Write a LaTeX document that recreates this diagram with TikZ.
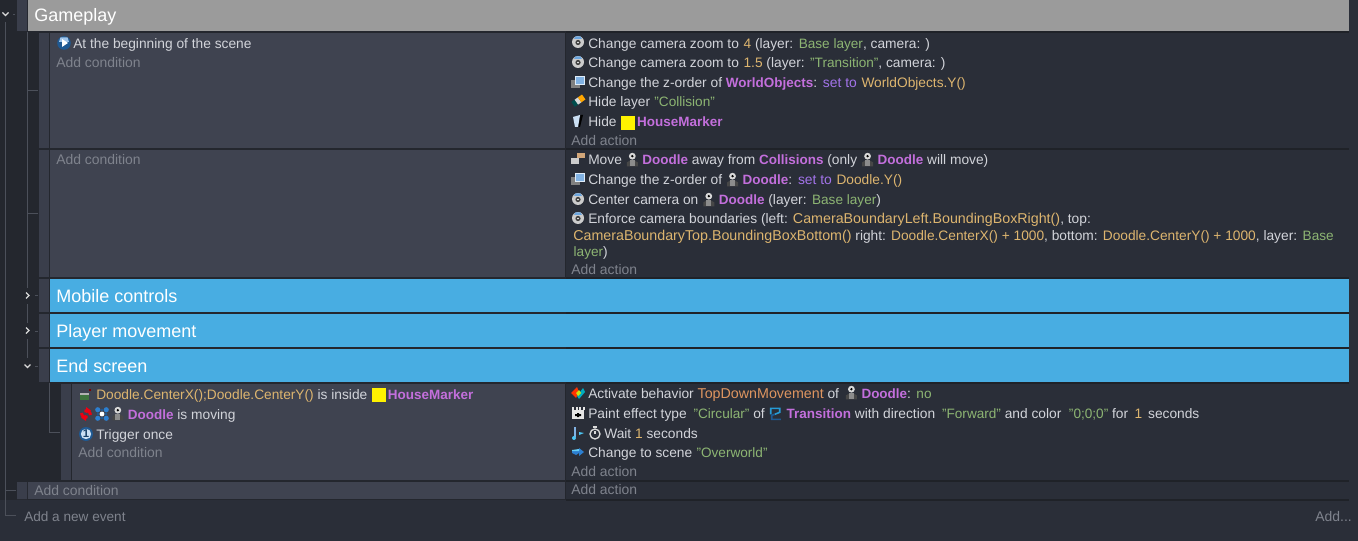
\documentclass[tikz,border=0pt]{standalone}
\usepackage{fontspec}
\setmainfont{Liberation Sans}
\definecolor{gutterbg}{HTML}{24272E}
\definecolor{gapbg}{HTML}{1F2228}
\definecolor{actionbg}{HTML}{2A2E38}
\definecolor{panelbg}{HTML}{3F4350}
\definecolor{handlebg}{HTML}{3A3E4B}
\definecolor{headerbg}{HTML}{9B9B9B}
\definecolor{groupbg}{HTML}{48ADE2}
\definecolor{treeline}{HTML}{4C505A}
\definecolor{plaintext}{HTML}{D2D4DA}
\definecolor{hinttext}{HTML}{7F838D}
\definecolor{objtext}{HTML}{C36FDC}
\definecolor{exprtext}{HTML}{DDB56F}
\definecolor{strtext}{HTML}{8DB573}
\definecolor{optext}{HTML}{A374EA}
\definecolor{behtext}{HTML}{DE9560}
\definecolor{iconblue}{HTML}{2C7FD0}
\newcommand{\objname}[1]{\textcolor{objtext}{\fontsize{10.1pt}{12pt}\selectfont\textbf{#1}}}
\newcommand{\expr}[1]{\textcolor{exprtext}{\fontsize{10.3pt}{12pt}\selectfont #1}}
\newcommand{\exprwide}[1]{\textcolor{exprtext}{\fontsize{10.7pt}{12pt}\selectfont #1}}
\newcommand{\strv}[1]{\hspace{0.3pt}\textcolor{strtext}{\fontsize{10.2pt}{12pt}\selectfont #1}}
\newcommand{\opword}[1]{\hspace{0.6pt}\textcolor{optext}{\fontsize{10.4pt}{12pt}\selectfont #1}\hspace{0.6pt}}
\newcommand{\doodle}{\hspace{0.8pt}\tikz[x=0.75pt,y=-0.75pt,baseline=-4.2pt]{%
  \fill[black!72] (-5.5,7) -- (-5.5,3) -- (-2,1) -- (2,1) -- (5.5,3) -- (5.5,7) -- cycle;
  \fill[black!45] (-2.5,7) rectangle (2.5,1);
  \fill[white!85!black] (0,-3.2) circle (3.4);
  \fill[black] (0,-3.2) circle (1.3);}\hspace{0.6pt}}
\newcommand{\marker}{\hspace{0.6pt}\raisebox{-2.25pt}{\textcolor{yellow}{\rule{10.5pt}{10.5pt}}}\hspace{1.5pt}}
\tikzset{
  line/.style={anchor=base west,inner sep=0pt,text=plaintext,font=\fontsize{10.32pt}{12pt}\selectfont},
  hint/.style={line,text=hinttext,font=\fontsize{10.45pt}{12pt}\selectfont},
  title/.style={line,text=white,font=\fontsize{13.5pt}{16pt}\selectfont},
  tree/.style={draw=treeline,line width=0.75pt},
  chevron/.style={draw=white!85!black,line width=1pt},
  camera/.pic={\fill[white!80!black] (0,0) circle (6);
    \fill[iconblue!70!white] (-4,-3) -- (4,-3) -- (2.5,-5.5) -- (-2.5,-5.5) -- cycle;
    \fill[black!75] (0,0.5) circle (2.6);
    \fill[white] (0,0.5) circle (0.9);},
  zorder/.pic={\fill[gray] (-7,-2) rectangle (2,6);
    \fill[white!85!iconblue] (-3,-6) rectangle (7,3);
    \fill[iconblue!60] (-2,-5) rectangle (6,2);},
  eraser/.pic={\fill[black!40!teal,rotate=35] (-6,-3) rectangle (-1,3);
    \fill[white!85!black,rotate=35] (-2,-3) rectangle (2,3);
    \fill[orange!70!yellow,rotate=35] (2,-3) rectangle (7,3);},
  hidemark/.pic={\fill[white!75!iconblue] (-5,-4) -- (2,-6) -- (0,6) -- (-3,6) -- cycle;
    \fill[black] (2.5,-6) -- (5,-6) -- (2,6) -- (0.5,6) -- cycle;},
  movemark/.pic={\fill[brown!70!white] (-1,-6) rectangle (7,-1);
    \fill[white!60!gray] (-7,-1) rectangle (1,5);},
  begin/.pic={\fill[iconblue!70!black] (0,0) circle (6.8);
    \fill[iconblue!45!white] (-5,-1) -- (5,-1) -- (3.5,-5.5) -- (-3.5,-5.5) -- cycle;
    \fill[white] (-2,-4) -- (4,0) -- (-2,4) -- cycle;},
  inside/.pic={\fill[gray!70!green!70!black] (-5,-2) rectangle (4,5);
    \fill[gray!60] (-5,-2) rectangle (4,-0.5);
    \fill[red!50!black] (3.5,-6) rectangle (5.5,-4);},
  movingmark/.pic={\draw[red!75!purple,line width=2.2pt] (-4.5,-1) arc (180:70:4.5);
    \draw[red!75!purple,line width=2.2pt] (4.5,1) arc (0:-110:4.5);
    \fill[red!75!purple] (0,-7) -- (5,-3.5) -- (0,-1) -- cycle;
    \fill[red!75!purple] (0,7) -- (-5,3.5) -- (0,1) -- cycle;},
  starmark/.pic={\foreach \a in {45,135,225,315}{\fill[iconblue] (\a:6) circle (2.6);}
    \foreach \a in {0,90,180,270}{\fill[iconblue!70!black] (\a:4) circle (1.4);}
    \fill[white] (0,0) circle (2.4);},
  once/.pic={\fill[iconblue!70!black] (0,0) circle (7);
    \fill[white!75!iconblue] (0,0) circle (5.2);
    \node[inner sep=0pt,text=iconblue!50!black,font=\bfseries\fontsize{8.5pt}{9pt}\selectfont] {1};},
  activate/.pic={\fill[red!60!orange] (-7,0) -- (-1,-6) -- (1,-1) -- (-2,5) -- cycle;
    \fill[cyan!70!green] (-1,3) -- (5,-5) -- (7,-1) -- (1,6) -- cycle;
    \fill[yellow!80!green] (-2,0) -- (1,-3) -- (3,0) -- (0,3) -- cycle;},
  paint/.pic={\fill[white!90!black] (-6,-3) rectangle (6,6);
    \foreach \a in {-6,-2.5,1,4.5}{\fill[white!90!black] (\a,-6) rectangle (\a+2,-3);}
    \fill[black] (-1,0) rectangle (1,4) (-3,1) rectangle (3,3);},
  waitmark/.pic={\draw[iconblue!60,line width=0.8pt] (-3,-6) -- (-3,4);
    \fill[cyan!70!white] (-4,5) circle (2);
    \fill[cyan!70!white] (1,-1) -- (6,0) -- (1,2) -- cycle;},
  watch/.pic={\draw[white!85!black,line width=1pt] (0,1) circle (5);
    \draw[white!85!black,line width=1pt] (-2,-6) -- (2,-6) (0,1) -- (0,-2);},
  scene/.pic={\fill[iconblue] (-6,-1) -- (1,-1) -- (1,-4) -- (6,0) -- (1,4) -- (1,1) -- (-2,3) -- (-6,1) -- cycle;
    \fill[cyan!60!white] (-6,-1) -- (1,-1) -- (1,-3) -- (-6,-2) -- cycle;},
  waves/.pic={\draw[cyan!60!iconblue,line width=1.2pt] (-5,1) -- (-5,-5) -- (4,-5) -- (4,-1) -- (-1,1);
    \draw[iconblue!70!black,line width=1.2pt] (-1,1) -- (-4,2) -- (-4,6) -- (5,6);},
}
\begin{document}
\begin{tikzpicture}[x=0.75pt,y=-0.75pt]
  \useasboundingbox (0,0) rectangle (1358,541);
  \fill[actionbg] (0,0) rectangle (1358,541);
  \fill[gutterbg] (0,0) rectangle (566,500);
  \fill[actionbg] (0,501) rectangle (566,541);
  % strips between the action columns
  \foreach \y in {31,148,277,312,347,382,480,499}{
    \fill[gapbg] (566,\y) rectangle (1349,\y+2);
  }
  % blocks
  \fill[headerbg] (28,0) rectangle (1349,31);
  \fill[handlebg] (17,0) rectangle (27,31) (17,482) rectangle (27,499);
  \foreach \ya/\yb in {33/148,150/277}{
    \fill[handlebg] (39,\ya) rectangle (49,\yb);
    \fill[panelbg] (50,\ya) rectangle (565,\yb);
  }
  \foreach \ya/\yb in {279/312,314/347,349/382}{
    \fill[handlebg] (39,\ya) rectangle (49,\yb);
    \fill[groupbg] (50,\ya) rectangle (1349,\yb);
  }
  \fill[handlebg] (61,384) rectangle (71,480);
  \fill[panelbg] (72,384) rectangle (565,480);
  \fill[panelbg] (28,482) rectangle (565,499);

  % tree lines
  \coordinate (rootend) at (16,515);
  \draw[tree] (5.5,22) -- (5.5,515) -- (rootend);
  \draw[tree] (5.5,490) -- (16,490);
  \draw[tree] (13,15) -- (15,15);
  \draw[tree] (27.5,32) -- (27.5,288) (27.5,304) -- (27.5,323) (27.5,339) -- (27.5,358);
  \draw[tree] (27.5,91) -- (38,91) (27.5,214) -- (38,214);
  \foreach \y in {296,331,366}{\draw[tree] (35,\y) -- (38,\y);}
  \draw[tree] (49.5,383) -- (49.5,432.5) -- (60,432.5);
  \draw[chevron] (2.5,12.5) -- (5.5,15.5) -- (8.5,12.5);
  \draw[chevron] (26,292.5) -- (29,295.5) -- (26,298.5);
  \draw[chevron] (26,327.5) -- (29,330.5) -- (26,333.5);
  \draw[chevron] (24.5,364.5) -- (27.5,367.5) -- (30.5,364.5);

  % titles
  \node[title] (gameplay) at (34,22) {Gameplay};
  \node[title] (mobile) at (56,302) {Mobile controls};
  \node[title] (player) at (56,337) {Player movement};
  \node[title] (endscreen) at (56,372) {End screen};

  % first event
  \pic at (64,43) {begin};
  \node[line] (cond1) at (73,49) {At the beginning of the scene};
  \node[hint] (addc1) at (56,68) {Add condition};
  \pic at (578,42) {camera};
  \node[line] (act1) at (588,49) {Change camera zoom to \hspace{0.6pt}\expr{4} (layer: \strv{Base layer}, camera: )};
  \pic at (578,62) {camera};
  \node[line] (act2) at (588,68) {Change camera zoom to \hspace{0.6pt}\expr{1.5} (layer: \strv{"Transition"}, camera: )};
  \pic at (578,82) {zorder};
  \node[line] (act3) at (588,88) {Change the z-order of \objname{WorldObjects}: \opword{set to} \expr{WorldObjects.Y()}};
  \pic at (578,101) {eraser};
  \node[line] (act4) at (588,107) {Hide layer \strv{"Collision"}};
  \pic at (578,121) {hidemark};
  \node[line] (act5) at (588,127) {Hide \marker\objname{HouseMarker}};
  \node[hint] (adda1) at (571,146) {Add action};

  % second event
  \node[hint] (addc2) at (56,165) {Add condition};
  \pic at (578,159) {movemark};
  \node[line] (act6) at (588,165) {Move \doodle\ \objname{Doodle} away from \objname{Collisions} (only \doodle\ \objname{Doodle} will move)};
  \pic at (578,179) {zorder};
  \node[line] (act7) at (588,185) {Change the z-order of \doodle\ \objname{Doodle}: \opword{set to} \expr{Doodle.Y()}};
  \pic at (578,199) {camera};
  \node[line] (act8) at (588,205) {Center camera on \doodle\ \objname{Doodle} (layer: \strv{Base layer})};
  \pic at (578,218) {camera};
  \node[line] (act9) at (588,224) {Enforce camera boundaries (left: \exprwide{CameraBoundaryLeft.BoundingBoxRight()}, top:};
  \node[line] (act9b) at (573,241) {\exprwide{CameraBoundaryTop.BoundingBoxBottom()} right: \expr{Doodle.CenterX() + 1000}, bottom: \expr{Doodle.CenterY() + 1000}, layer: \strv{Base}};
  \node[line] (act9c) at (573,257) {\strv{layer})};
  \node[hint] (adda2) at (571,275) {Add action};

  % end screen
  \pic at (85,395) {inside};
  \node[line] (cond2) at (96,399) {\expr{Doodle.CenterX();Doodle.CenterY()} is inside \marker\objname{HouseMarker}};
  \pic at (86,414) {movingmark};
  \pic at (102,414) {starmark};
  \node[line] (cond3) at (111,419) {\doodle\ \objname{Doodle} is moving};
  \pic at (86,434) {once};
  \node[line] (cond4) at (96,439) {Trigger once};
  \node[hint] (addc3) at (78,457) {Add condition};
  \pic at (578,393) {activate};
  \node[line] (act10) at (588,398) {Activate behavior \textcolor{behtext}{\fontsize{10.7pt}{12pt}\selectfont TopDownMovement} of \hspace{1.5pt}\doodle\ \objname{Doodle}: \strv{no}};
  \pic at (578,413) {paint};
  \node[line] (act11) at (588,418) {Paint effect type \hspace{2pt}\strv{"Circular"} of \hspace{1pt}\tikz[x=0.75pt,y=-0.75pt,baseline=-3.5pt]{\pic {waves};}\hspace{1pt}\ \objname{Transition} with direction \hspace{2pt}\strv{"Forward"} and color \hspace{2.5pt}\strv{"0;0;0"} for \hspace{2pt}\expr{1} \hspace{1.5pt}seconds};
  \pic at (578,433) {waitmark};
  \pic at (595,433) {watch};
  \node[line] (act12) at (604,438) {Wait \expr{1} seconds};
  \pic at (578,452) {scene};
  \node[line] (act13) at (588,457) {Change to scene \strv{"Overworld"}};
  \node[hint] (adda3) at (571,476) {Add action};

  % root
  \node[hint] (addc4) at (34,495) {Add condition};
  \node[hint] (adda4) at (571,494) {Add action};
  \node[hint,font=\fontsize{10.2pt}{12pt}\selectfont] (addevent) at (24,521) {Add a new event};
  \node[hint,anchor=base east] (addmore) at (1352,521) {Add...};
\end{tikzpicture}
\end{document}
